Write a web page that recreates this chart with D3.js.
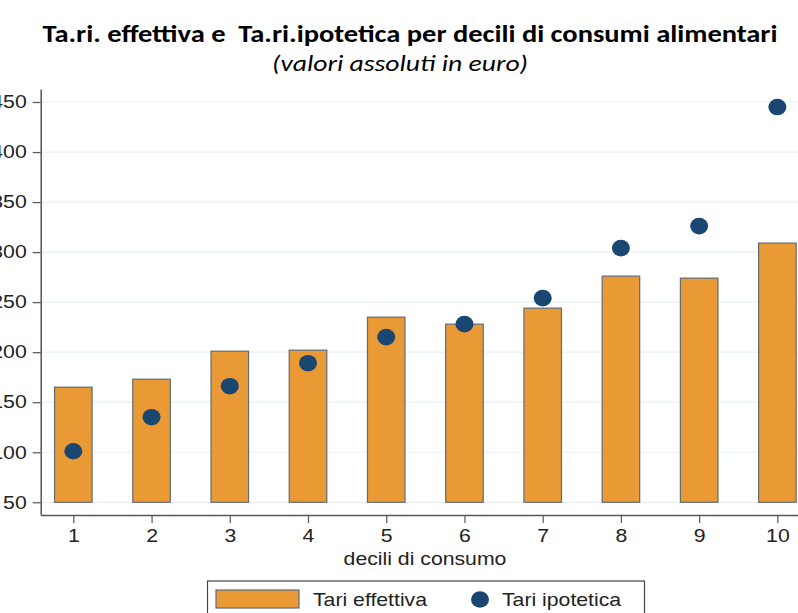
<!DOCTYPE html>
<html>
<head>
<meta charset="utf-8">
<script src="https://cdn.jsdelivr.net/npm/d3@7/dist/d3.min.js"></script>
<style>
  html, body { margin: 0; padding: 0; background: #fff; }
  svg { display: block; }
</style>
</head>
<body>
<svg id="chart" width="798" height="613"></svg>
<script>
// Deciles of food consumption
const deciles = [1, 2, 3, 4, 5, 6, 7, 8, 9, 10];
// Actual waste tax (bars), euro
const tariEffettiva = [165, 173, 201, 202, 235, 228, 244, 276, 274, 309];
// Hypothetical waste tax (dots), euro
const tariIpotetica = [101, 135, 166, 189, 215, 228, 254, 304, 326, 445];
const yTicks = [50, 100, 150, 200, 250, 300, 350, 400, 450];
const barBase = 50;

const svg = d3.select("#chart");
const font = "'Liberation Sans', Arial, Helvetica, sans-serif";
const stretch = 1.18; // horizontal widening of the sans-serif labels
const labelSize = 18;

const x = d3.scaleLinear().domain([0.583, 10.417]).range([40.7, 810]);
const y = d3.scaleLinear().domain([37.3, 463]).range([515, 89]);

// Title and subtitle
svg.append("text")
  .attr("x", 410).attr("y", 42)
  .attr("text-anchor", "middle")
  .attr("font-family", "Carlito, 'Open Sans', sans-serif")
  .attr("font-weight", "bold")
  .attr("font-size", 24)
  .attr("textLength", 735)
  .attr("lengthAdjust", "spacingAndGlyphs")
  .style("white-space", "pre")
  .attr("fill", "#000")
  .text("Ta.ri. effettiva e  Ta.ri.ipotetica per decili di consumi alimentari");

svg.append("text")
  .attr("x", 400).attr("y", 71)
  .attr("text-anchor", "middle")
  .attr("font-family", "Carlito, 'Open Sans', sans-serif")
  .attr("font-style", "italic")
  .attr("font-size", 22)
  .attr("textLength", 256)
  .attr("lengthAdjust", "spacingAndGlyphs")
  .attr("fill", "#000")
  .text("(valori assoluti in euro)");

// Gridlines
svg.append("g")
  .selectAll("line")
  .data(yTicks)
  .join("line")
  .attr("x1", 41).attr("x2", 798)
  .attr("y1", d => y(d)).attr("y2", d => y(d))
  .attr("stroke", "#e9f0f3")
  .attr("stroke-width", 1.2);

// Bars
const barW = 0.48;
svg.append("g")
  .selectAll("rect")
  .data(deciles)
  .join("rect")
  .attr("x", (d) => x(d - barW / 2))
  .attr("width", x(barW) - x(0))
  .attr("y", (d, i) => y(tariEffettiva[i]))
  .attr("height", (d, i) => y(barBase) - y(tariEffettiva[i]))
  .attr("fill", "#e99a35")
  .attr("stroke", "#5f6b78")
  .attr("stroke-width", 1.2);

// Dots
svg.append("g")
  .selectAll("ellipse")
  .data(deciles)
  .join("ellipse")
  .attr("cx", d => x(d))
  .attr("cy", (d, i) => y(tariIpotetica[i]))
  .attr("rx", 9)
  .attr("ry", 8.3)
  .attr("fill", "#1a4771");

// Axes
const axisColor = "#555";
const yAxis = svg.append("g")
  .attr("transform", `translate(${x.range()[0]},0)`)
  .call(d3.axisLeft(y).tickValues(yTicks).tickSize(8).tickPadding(6).tickSizeOuter(0));
const xAxis = svg.append("g")
  .attr("transform", `translate(0,${y.range()[0]})`)
  .call(d3.axisBottom(x).tickValues(deciles).tickSize(8).tickPadding(6).tickSizeOuter(0));

[yAxis, xAxis].forEach(g => {
  g.select(".domain").attr("stroke", axisColor).attr("stroke-width", 1.5);
  g.selectAll(".tick line").attr("stroke", axisColor).attr("stroke-width", 1.2);
  g.selectAll(".tick text")
    .attr("font-family", font)
    .attr("font-size", labelSize)
    .attr("fill", "#222");
});
// widen tick labels around their anchor point
yAxis.selectAll(".tick text")
  .attr("x", -14 / stretch)
  .attr("transform", `scale(${stretch},1)`);
xAxis.selectAll(".tick text")
  .attr("transform", `scale(${stretch},1)`);

// Horizontally widened text helper
function wideText(parent, px, py, str, anchor) {
  return parent.append("text")
    .attr("transform", `translate(${px},${py}) scale(${stretch},1)`)
    .attr("text-anchor", anchor || "start")
    .attr("font-family", font)
    .attr("font-size", labelSize)
    .attr("fill", "#222")
    .text(str);
}

// X axis title
wideText(svg, 425, 565, "decili di consumo", "middle");

// Legend
const legend = svg.append("g");
legend.append("rect")
  .attr("x", 207.5).attr("y", 581)
  .attr("width", 437).attr("height", 45)
  .attr("fill", "#fff")
  .attr("stroke", "#444")
  .attr("stroke-width", 1.2);
legend.append("rect")
  .attr("x", 216).attr("y", 590)
  .attr("width", 83).attr("height", 18)
  .attr("fill", "#e99a35")
  .attr("stroke", "#5f6b78")
  .attr("stroke-width", 1.2);
wideText(legend, 313, 606, "Tari effettiva");
legend.append("ellipse")
  .attr("cx", 480).attr("cy", 599.5)
  .attr("rx", 9).attr("ry", 8.3)
  .attr("fill", "#1a4771");
wideText(legend, 502, 606, "Tari ipotetica");
</script>
</body>
</html>
